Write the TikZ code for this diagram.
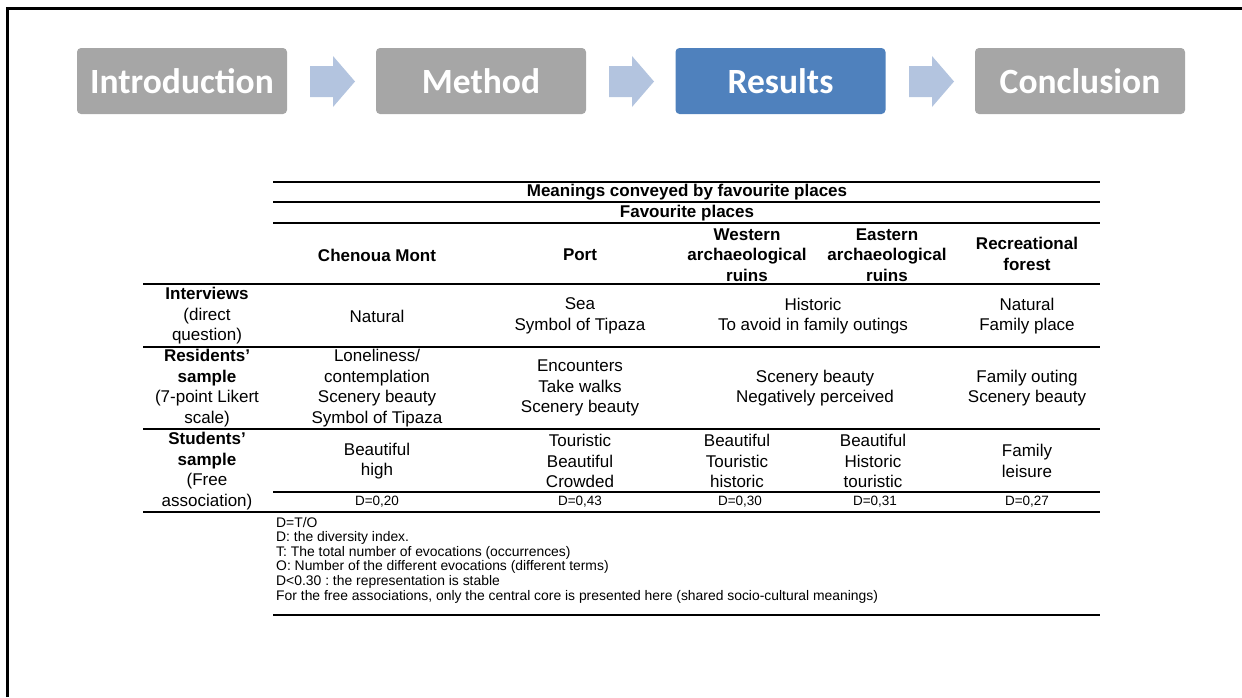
\documentclass[tikz,border=0pt]{standalone}
\usepackage{fontspec}
\setmainfont{Liberation Sans}
\newfontfamily\stagefont{Carlito}
\usepackage{tikz}
\frenchspacing
\definecolor{stagegray}{HTML}{A6A6A6}
\definecolor{stageblue}{HTML}{4F81BD}
\definecolor{flowblue}{RGB}{179,196,223}
\tikzset{
  stage/.style={
    rectangle,
    rounded corners=4pt,
    fill=stagegray,
    text=white,
    minimum width=210pt,
    minimum height=66pt,
    font=\stagefont\bfseries\fontsize{35.5}{40}\selectfont
  },
  cell/.style={
    align=center,
    inner sep=0pt,
    font=\fontsize{17}{20.5}\selectfont
  },
  rule/.style={line width=1.3pt}
}
\tikzstyle{note} = [anchor=west, align=left, inner sep=0pt, font=\fontsize{13.9}{14.6}\selectfont]
\def\hd#1{\textbf{#1}}
\def\dval#1{{\fontsize{13.5}{15}\selectfont D=#1}}

\begin{document}
\begin{tikzpicture}[x=1pt, y=-1pt]
    \useasboundingbox (0,0) rectangle (1242,697);
    \draw[line width=3pt] (7.5,697) -- (7.5,8.5) -- (1242,8.5);
    % stages
    \node[stage] (intro) at (182, 81) {Introduction};
    \node[stage] (method) at (481, 81) {Method};
    \node[stage, fill=stageblue] (results) at (780.5, 81) {Results};
    \node[stage] (concl) at (1080, 81) {Conclusion};
    \foreach \ax in {310, 609, 909}
      \fill[flowblue] (\ax, 66) -- ++(23, 0) -- ++(0, -10) -- ++(22, 25.5) -- ++(-22, 25.5) -- ++(0, -10) -- ++(-23, 0) -- cycle;
    % table rules
    \foreach \ry in {182, 202, 223, 492, 615}
      \draw[rule] (273, \ry) -- (1100, \ry);
    \foreach \ry in {284, 347, 429, 512}
      \draw[rule] (143, \ry) -- (1100, \ry);
    % headings
    \node[cell] (title) at (687, 192) {\hd{Meanings conveyed by favourite places}};
    \node[cell] (places) at (687, 213) {\hd{Favourite places}};
    \node[cell] (hchenoua) at (377, 255) {\hd{Chenoua Mont}};
    \node[cell] (hport) at (580, 255) {\hd{Port}};
    \node[cell] (hwest) at (747, 255) {\hd{Western}\\\hd{archaeological}\\\hd{ruins}};
    \node[cell] (heast) at (887, 255) {\hd{Eastern}\\\hd{archaeological}\\\hd{ruins}};
    \node[cell] (hforest) at (1027, 254) {\hd{Recreational}\\\hd{forest}};
    % row headers
    \node[cell] (rinter) at (207, 316) {\hd{Interviews}\\(direct\\question)};
    \node[cell] (rresid) at (207, 388) {\hd{Residents’}\\\hd{sample}\\(7-point Likert\\scale)};
    \node[cell] (rstud) at (207, 471) {\hd{Students’}\\\hd{sample}\\(Free\\association)};
    % interviews
    \node[cell] (i1) at (377, 316) {Natural};
    \node[cell] (i2) at (580, 316) {Sea\\Symbol of Tipaza};
    \node[cell] (i3) at (813, 316) {Historic\\To avoid in family outings};
    \node[cell] (i5) at (1027, 316) {Natural\\Family place};
    % residents
    \node[cell] (r1) at (377, 388) {Loneliness/\\contemplation\\Scenery beauty\\Symbol of Tipaza};
    \node[cell] (r2) at (580, 388) {Encounters\\Take walks\\Scenery beauty};
    \node[cell] (r3) at (815, 388) {Scenery beauty\\Negatively perceived};
    \node[cell] (r5) at (1027, 388) {Family outing\\Scenery beauty};
    % students
    \node[cell] (s1) at (377, 461) {Beautiful\\high};
    \node[cell] (s2) at (580, 461) {Touristic\\Beautiful\\Crowded};
    \node[cell] (s3) at (737, 461) {Beautiful\\Touristic\\historic};
    \node[cell] (s4) at (873, 461) {Beautiful\\Historic\\touristic};
    \node[cell] (s5) at (1027, 461) {Family\\leisure};
    \node[cell] (d1) at (377, 502) {\dval{0,20}};
    \node[cell] (d2) at (580, 502) {\dval{0,43}};
    \node[cell] (d3) at (740, 502) {\dval{0,30}};
    \node[cell] (d4) at (875, 502) {\dval{0,31}};
    \node[cell] (d5) at (1027, 502) {\dval{0,27}};
    % notes
    \node[note] (notes) at (276, 560) {D=T/O\\D: the diversity index.\\T: The total number of evocations (occurrences)\\O: Number of the different evocations (different terms)\\D<0.30 : the representation is stable\\For the free associations, only the central core is presented here (shared socio-cultural meanings)};
\end{tikzpicture}
\end{document}
